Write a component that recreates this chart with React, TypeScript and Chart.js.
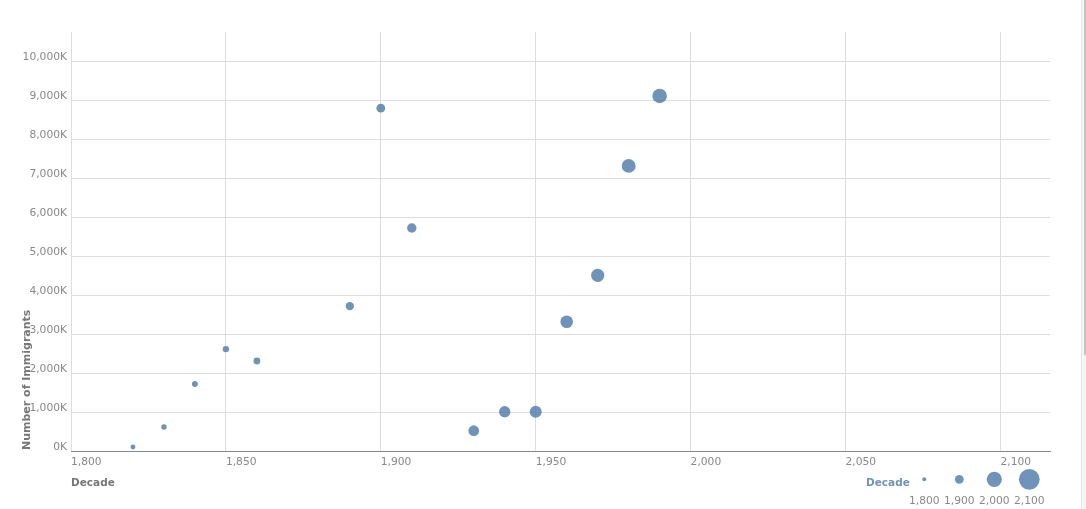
import React, { useEffect, useRef } from "react";
import { Chart, registerables } from "chart.js";

Chart.register(...registerables);

// ---- data ----
const decades = [1820, 1830, 1840, 1850, 1860, 1890, 1900, 1910, 1930, 1940, 1950, 1960, 1970, 1980, 1990];
const immigrants = [
  105000, 615000, 1718000, 2615000, 2308000, 3718000, 8795000, 5722000,
  520000, 1008000, 1008000, 3315000, 4506000, 7315000, 9110000,
];
const yTickValues = [0, 1000000, 2000000, 3000000, 4000000, 5000000, 6000000, 7000000, 8000000, 9000000, 10000000];
const xTickValues = [1800, 1850, 1900, 1950, 2000, 2050, 2100];
const legendDecades = [1800, 1900, 2000, 2100];
const xTitle = "Decade";
const yTitle = "Number of Immigrants";
const legendTitle = "Decade";

// ---- style ----
const sizeRadii = [2, 4.4, 7.6, 10.4]; // radius at each legend decade
const pointColor = "rgba(76,120,168,0.8)";
const FONT = "'DejaVu Sans', sans-serif";

function radiusFor(dec: number): number {
  for (let i = 0; i < legendDecades.length - 1; i++) {
    const a = legendDecades[i], b = legendDecades[i + 1];
    if (dec <= b) {
      const t = (dec - a) / (b - a);
      return sizeRadii[i] + t * (sizeRadii[i + 1] - sizeRadii[i]);
    }
  }
  return sizeRadii[sizeRadii.length - 1];
}

const fmt = (v: number) => v.toLocaleString("en-US");

const overlay = {
  id: "overlay",
  afterDraw(chart: any) {
    const ctx = chart.ctx;
    const area = chart.chartArea;
    ctx.save();
    ctx.font = `bold 10.5px ${FONT}`;
    ctx.fillStyle = "#777";
    ctx.textAlign = "left";
    ctx.textBaseline = "alphabetic";
    ctx.fillText(xTitle, area.left, 486);
    ctx.save();
    ctx.font = `bold 11px ${FONT}`;
    ctx.translate(29.5, area.bottom - 1);
    ctx.rotate(-Math.PI / 2);
    ctx.fillText(yTitle, 0, 0);
    ctx.restore();
    ctx.fillStyle = pointColor;
    ctx.font = `bold 10.5px ${FONT}`;
    ctx.fillText(legendTitle, 866, 486);
    const cy = 479.3;
    legendDecades.forEach((d, i) => {
      const cx = 924.3 + i * 35;
      ctx.beginPath();
      ctx.arc(cx, cy, radiusFor(d), 0, Math.PI * 2);
      ctx.fillStyle = pointColor;
      ctx.fill();
      ctx.font = `10.7px ${FONT}`;
      ctx.fillStyle = "#888";
      ctx.textAlign = "center";
      ctx.fillText(fmt(d), cx, 504);
      ctx.textAlign = "left";
    });
    ctx.restore();
  },
};

export default function App() {
  const ref = useRef<HTMLCanvasElement>(null);
  useEffect(() => {
    if (!ref.current) return;
    const chart = new Chart(ref.current, {
      type: "scatter",
      data: {
        datasets: [
          {
            data: decades.map((d, i) => ({ x: d, y: immigrants[i] })),
            backgroundColor: pointColor,
            borderWidth: 0,
            pointRadius: (c: any) => radiusFor(c.raw ? c.raw.x : 1800),
            pointHoverRadius: (c: any) => radiusFor(c.raw ? c.raw.x : 1800),
          },
        ],
      },
      options: {
        animation: false,
        responsive: true,
        maintainAspectRatio: false,
        events: [],
        layout: { padding: { left: 0, right: 36, top: 32, bottom: 0 } },
        plugins: { legend: { display: false }, tooltip: { enabled: false } },
        scales: {
          x: {
            type: "linear",
            min: 1800,
            max: 2116,
            afterBuildTicks: (s: any) => {
              s.ticks = xTickValues.map((v) => ({ value: v }));
            },
            afterFit: (s: any) => {
              s.height = 58;
            },
            ticks: {
              align: "start",
              padding: 5,
              maxRotation: 0,
              autoSkip: false,
              color: "#888",
              font: { family: FONT, size: 10.7 },
              callback: (v: any) => fmt(Number(v)),
            },
            grid: { color: "#ddd", drawTicks: false },
            border: { color: "#888" },
          },
          y: {
            type: "linear",
            min: 0,
            max: 10750000,
            afterBuildTicks: (s: any) => {
              s.ticks = yTickValues.map((v) => ({ value: v }));
            },
            afterFit: (s: any) => {
              s.width = 71;
            },
            ticks: {
              padding: 4,
              labelOffset: -4,
              autoSkip: false,
              color: "#888",
              font: { family: FONT, size: 10.7 },
              callback: (v: any) => fmt(Number(v) / 1000) + "K",
            },
            grid: { color: "#ddd", drawTicks: false },
            border: { display: false },
          },
        },
      },
      plugins: [overlay],
    } as any);
    return () => chart.destroy();
  }, []);

  return (
    <div style={{ position: "fixed", left: 0, top: 0, width: 1086, height: 509, background: "#fff" }}>
      <canvas ref={ref} />
      <div style={{ position: "absolute", left: 1081, top: 0, width: 1, height: 509, background: "#e6e6e6" }} />
      <div style={{ position: "absolute", left: 1082, top: 0, width: 4, height: 509, background: "#f6f6f6" }} />
      <div style={{ position: "absolute", left: 1084, top: 0, width: 2, height: 355, background: "#c4c4c4" }} />
    </div>
  );
}
